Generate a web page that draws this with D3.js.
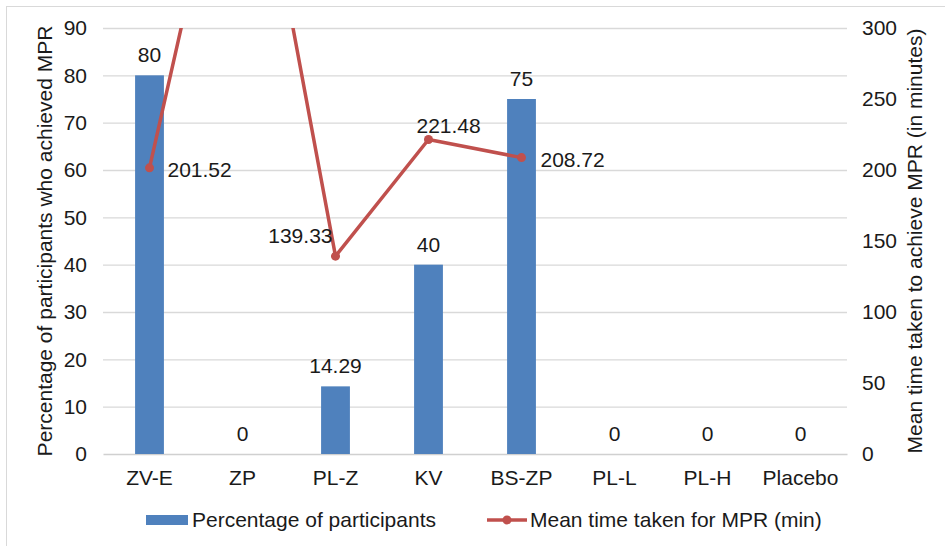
<!DOCTYPE html>
<html>
<head>
<meta charset="utf-8">
<script src="https://cdn.jsdelivr.net/npm/d3@7"></script>
<style>
  html, body { margin: 0; padding: 0; background: #fff; }
  svg { display: block; font-family: "Liberation Sans", Arial, sans-serif; }
</style>
</head>
<body>
<svg id="chart" width="945" height="546"></svg>
<script>
// Treatment groups
const categories = ["ZV-E", "ZP", "PL-Z", "KV", "BS-ZP", "PL-L", "PL-H", "Placebo"];
// Percentage of participants who achieved MPR
const pctValues = [80, 0, 14.29, 40, 75, 0, 0, 0];
// Mean time taken for MPR in minutes (only groups with responders)
const timeCategories = ["ZV-E", "ZP", "PL-Z", "KV", "BS-ZP"];
const timeValues = [201.52, 491, 139.33, 221.48, 208.72];
// Labels printed next to the line points (ZP runs off the top of the axis)
const timeLabels = ["201.52", null, "139.33", "221.48", "208.72"];
// Axis ticks
const leftTicks = [0, 10, 20, 30, 40, 50, 60, 70, 80, 90];
const rightTicks = [0, 50, 100, 150, 200, 250, 300];

const seriesNames = ["Percentage of participants", "Mean time taken for MPR (min)"];
const leftTitle = "Percentage of participants who achieved MPR";
const rightTitle = "Mean time taken to achieve MPR (in minutes)";

const BAR = "#4F81BD", LINE = "#C0504D", GRID = "#D9D9D9", TXT = "#1a1a1a";
const FS = 21;
const FONT = "Liberation Sans, Arial, sans-serif";

const svg = d3.select("#chart");
const plot = { left: 103, right: 847, top: 28, bottom: 454 };

// Outer chart frame
svg.append("rect")
  .attr("x", 6.5).attr("y", 6.5).attr("width", 960).attr("height", 560)
  .attr("fill", "none").attr("stroke", "#D9D9D9");

const x = d3.scaleBand().domain(categories)
  .range([plot.left, plot.right]).paddingInner(0.69).paddingOuter(0.345);
const yL = d3.scaleLinear().domain([0, 90]).range([plot.bottom, plot.top]);
const yR = d3.scaleLinear().domain([0, 300]).range([plot.bottom, plot.top]);
const cx = c => x(c) + x.bandwidth() / 2;

// Horizontal gridlines
const gridAxis = d3.axisLeft(yL).tickValues(leftTicks.slice(1))
  .tickSize(-(plot.right - plot.left)).tickFormat("");
const grid = svg.append("g").attr("transform", `translate(${plot.left},0)`).call(gridAxis);
grid.select(".domain").remove();
grid.selectAll("line").attr("stroke", GRID).attr("stroke-width", 1.3);

// Left axis labels
const la = svg.append("g").attr("transform", `translate(${plot.left},0)`)
  .call(d3.axisLeft(yL).tickValues(leftTicks).tickSize(0).tickPadding(16));
la.select(".domain").remove();
la.selectAll("text").attr("font-size", FS).attr("fill", TXT).attr("font-family", FONT);

// Right axis labels
const ra = svg.append("g").attr("transform", `translate(${plot.right},0)`)
  .call(d3.axisRight(yR).tickValues(rightTicks).tickSize(0).tickPadding(15));
ra.select(".domain").remove();
ra.selectAll("text").attr("font-size", FS).attr("fill", TXT).attr("font-family", FONT);

// Category axis
const ba = svg.append("g").attr("transform", `translate(0,${plot.bottom})`)
  .call(d3.axisBottom(x).tickSize(0).tickPadding(16));
ba.select(".domain").attr("stroke", "#D0D0D0").attr("stroke-width", 1.3);
ba.selectAll("text").attr("font-size", FS).attr("fill", TXT).attr("font-family", FONT);

// Axis titles
svg.append("text")
  .attr("transform", `translate(52,${(plot.top + plot.bottom) / 2}) rotate(-90)`)
  .attr("text-anchor", "middle").attr("font-size", FS).attr("fill", TXT)
  .text(leftTitle);
svg.append("text")
  .attr("transform", `translate(922,${(plot.top + plot.bottom) / 2}) rotate(-90)`)
  .attr("text-anchor", "middle").attr("font-size", FS).attr("fill", TXT)
  .text(rightTitle);

// Bars
svg.append("g").selectAll("rect").data(categories).join("rect")
  .attr("x", c => x(c))
  .attr("width", x.bandwidth())
  .attr("y", (c, i) => yL(pctValues[i]))
  .attr("height", (c, i) => yL(0) - yL(pctValues[i]))
  .attr("fill", BAR);

// Bar value labels
svg.append("g").selectAll("text").data(categories).join("text")
  .attr("x", c => cx(c))
  .attr("y", (c, i) => yL(pctValues[i]) - 13)
  .attr("text-anchor", "middle").attr("font-size", FS).attr("fill", TXT)
  .text((c, i) => d3.format("~")(pctValues[i]));

// Line series, clipped to the plot area
svg.append("clipPath").attr("id", "plotClip").append("rect")
  .attr("x", plot.left - 10).attr("y", plot.top)
  .attr("width", plot.right - plot.left + 20).attr("height", plot.bottom - plot.top);

const lineG = svg.append("g").attr("clip-path", "url(#plotClip)");
const pts = timeCategories.map((c, i) => ({
  x: cx(c), y: yR(timeValues[i]), label: timeLabels[i], i
}));
lineG.append("path")
  .attr("d", d3.line().x(d => d.x).y(d => d.y)(pts))
  .attr("fill", "none").attr("stroke", LINE).attr("stroke-width", 3.5)
  .attr("stroke-linejoin", "round");
lineG.selectAll("circle").data(pts).join("circle")
  .attr("cx", d => d.x).attr("cy", d => d.y).attr("r", 4.5)
  .attr("fill", LINE);

// Line value labels (placement offsets per point)
const labelPlace = [
  { dx: 18, dy: 9, anchor: "start" },
  null,
  { dx: -3, dy: -13, anchor: "end" },
  { dx: -12, dy: -6, anchor: "start" },
  { dx: 19, dy: 9, anchor: "start" }
];
svg.append("g").selectAll("text").data(pts.filter(d => d.label !== null)).join("text")
  .attr("x", d => d.x + labelPlace[d.i].dx)
  .attr("y", d => d.y + labelPlace[d.i].dy)
  .attr("text-anchor", d => labelPlace[d.i].anchor)
  .attr("font-size", FS).attr("fill", TXT)
  .text(d => d.label);

// Legend
const lg = svg.append("g");
lg.append("rect").attr("x", 146).attr("y", 515).attr("width", 42).attr("height", 10).attr("fill", BAR);
lg.append("text").attr("x", 192).attr("y", 527).attr("font-size", FS).attr("fill", TXT).text(seriesNames[0]);
lg.append("line").attr("x1", 487).attr("x2", 527).attr("y1", 520).attr("y2", 520)
  .attr("stroke", LINE).attr("stroke-width", 3.5);
lg.append("circle").attr("cx", 507).attr("cy", 520).attr("r", 4.5).attr("fill", LINE);
lg.append("text").attr("x", 530).attr("y", 527).attr("font-size", FS).attr("fill", TXT).text(seriesNames[1]);
</script>
</body>
</html>
